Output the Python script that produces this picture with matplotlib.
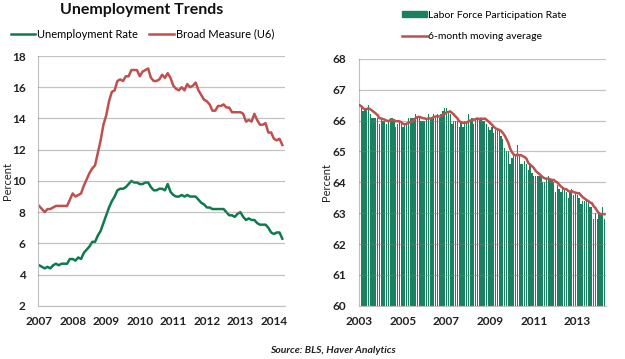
import matplotlib
matplotlib.use("Agg")
import matplotlib.pyplot as plt
from matplotlib.lines import Line2D
from matplotlib.patches import Patch
import numpy as np

plt.rcParams['font.family'] = ['Lato', 'DejaVu Sans']

# monthly, Jan 2007 - Apr 2014
unemp_start = 2007
unemp_rate = [
    4.6, 4.5, 4.4, 4.5, 4.4, 4.6, 4.7, 4.6, 4.7, 4.7, 4.7, 5.0,
    5.0, 4.9, 5.1, 5.0, 5.4, 5.6, 5.8, 6.1, 6.1, 6.5, 6.8, 7.3,
    7.8, 8.3, 8.7, 9.0, 9.4, 9.5, 9.5, 9.6, 9.8, 10.0, 9.9, 9.9,
    9.8, 9.8, 9.9, 9.9, 9.6, 9.4, 9.4, 9.5, 9.5, 9.4, 9.8, 9.3,
    9.1, 9.0, 9.0, 9.1, 9.0, 9.1, 9.0, 9.0, 9.0, 8.8, 8.6, 8.5,
    8.3, 8.3, 8.2, 8.2, 8.2, 8.2, 8.2, 8.0, 7.8, 7.8, 7.7, 7.9,
    8.0, 7.7, 7.5, 7.6, 7.5, 7.5, 7.3, 7.2, 7.2, 7.2, 7.0, 6.7,
    6.6, 6.7, 6.7, 6.3,
]
u6_rate = [
    8.4, 8.2, 8.0, 8.2, 8.2, 8.3, 8.4, 8.4, 8.4, 8.4, 8.4, 8.8,
    9.2, 9.0, 9.1, 9.2, 9.7, 10.1, 10.5, 10.8, 11.0, 11.8, 12.6, 13.6,
    14.2, 15.1, 15.7, 15.8, 16.4, 16.5, 16.4, 16.7, 16.7, 17.1, 17.1, 17.1,
    16.7, 17.0, 17.1, 17.2, 16.6, 16.4, 16.4, 16.5, 16.8, 16.6, 16.9, 16.6,
    16.1, 15.9, 15.8, 16.0, 15.8, 16.2, 16.0, 16.1, 16.3, 15.8, 15.5, 15.2,
    15.1, 14.9, 14.5, 14.5, 14.8, 14.8, 14.9, 14.7, 14.7, 14.4, 14.4, 14.4,
    14.4, 14.3, 13.8, 13.9, 13.8, 14.3, 13.9, 13.6, 13.6, 13.7, 13.1, 13.1,
    12.7, 12.6, 12.7, 12.3,
]

# monthly, Jan 2003 - Apr 2014
lfpr_start = 2003
lfpr = [
    66.4, 66.4, 66.3, 66.4, 66.4, 66.5, 66.2, 66.1, 66.1, 66.1, 66.1, 65.9,
    66.1, 66.0, 66.0, 65.9, 66.0, 66.1, 66.1, 66.0, 65.8, 65.9, 66.0, 65.9,
    65.8, 65.9, 65.9, 66.1, 66.1, 66.1, 66.1, 66.2, 66.1, 66.1, 66.0, 66.0,
    66.0, 66.1, 66.2, 66.1, 66.1, 66.2, 66.1, 66.2, 66.1, 66.2, 66.3, 66.4,
    66.4, 66.3, 66.2, 65.9, 66.0, 66.0, 66.0, 65.8, 66.0, 65.8, 66.0, 66.0,
    66.2, 66.0, 66.1, 65.9, 66.1, 66.1, 66.1, 66.1, 66.0, 66.0, 65.9, 65.8,
    65.7, 65.8, 65.6, 65.7, 65.7, 65.7, 65.5, 65.4, 65.1, 65.0, 65.0, 64.6,
    64.8, 64.9, 64.9, 65.2, 64.9, 64.6, 64.6, 64.7, 64.6, 64.4, 64.6, 64.3,
    64.2, 64.2, 64.2, 64.2, 64.2, 64.0, 64.0, 64.1, 64.2, 64.1, 64.1, 64.0,
    63.7, 63.9, 63.8, 63.7, 63.8, 63.8, 63.7, 63.5, 63.7, 63.8, 63.6, 63.7,
    63.6, 63.5, 63.3, 63.4, 63.4, 63.4, 63.4, 63.2, 63.2, 62.8, 63.0, 62.8,
    63.0, 63.0, 63.2, 62.8,
]
lfpr_ma6 = [
    66.50, 66.47, 66.40, 66.37, 66.37, 66.40, 66.37, 66.32, 66.28, 66.23, 66.18, 66.08,
    66.07, 66.05, 66.03, 66.00, 65.98, 66.02, 66.02, 66.02, 65.98, 65.98, 65.98, 65.95,
    65.90, 65.88, 65.90, 65.93, 65.95, 65.98, 66.03, 66.08, 66.12, 66.12, 66.10, 66.08,
    66.07, 66.05, 66.07, 66.07, 66.08, 66.12, 66.13, 66.15, 66.13, 66.15, 66.18, 66.22,
    66.27, 66.28, 66.30, 66.25, 66.20, 66.13, 66.07, 65.98, 65.95, 65.93, 65.93, 65.93,
    65.97, 66.00, 66.02, 66.03, 66.05, 66.07, 66.05, 66.07, 66.05, 66.07, 66.03, 65.98,
    65.92, 65.87, 65.80, 65.75, 65.72, 65.70, 65.67, 65.60, 65.52, 65.40, 65.28, 65.10,
    64.98, 64.90, 64.87, 64.90, 64.88, 64.88, 64.85, 64.82, 64.77, 64.63, 64.58, 64.53,
    64.47, 64.38, 64.32, 64.28, 64.22, 64.17, 64.13, 64.12, 64.12, 64.10, 64.08, 64.08,
    64.03, 64.00, 63.93, 63.87, 63.82, 63.78, 63.78, 63.72, 63.70, 63.72, 63.68, 63.67,
    63.65, 63.65, 63.58, 63.52, 63.48, 63.43, 63.40, 63.35, 63.33, 63.23, 63.17, 63.07,
    63.00, 62.97, 62.97, 62.97,
]

GREEN = '#0f7a4e'
BAR_GREEN = '#1b8060'
RED = '#c0504d'
TXT = '#222222'

fig = plt.figure(figsize=(6.25, 3.59), dpi=100)

# --- left: unemployment ---
ax1 = fig.add_axes([0.061, 0.148, 0.395, 0.696])
t1 = unemp_start + np.arange(len(unemp_rate)) / 12
ax1.plot(t1, u6_rate, color=RED, lw=1.8)
ax1.plot(t1, unemp_rate, color=GREEN, lw=1.8)
ax1.set_xlim(2007 - 0.03, 2014.33)
ax1.set_ylim(2, 18)
ax1.set_yticks(range(2, 19, 2))
ax1.set_xticks(range(2007, 2015))
ax1.set_ylabel('Percent', fontsize=8, color=TXT)
ax1.yaxis.set_label_coords(-0.1, 0.5)

# --- right: participation ---
ax2 = fig.add_axes([0.574, 0.148, 0.396, 0.688])
t2 = lfpr_start + np.arange(len(lfpr)) / 12
ax2.bar(t2, lfpr, width=1 / 12 * 0.72, color=BAR_GREEN, zorder=2)
ax2.plot(t2, lfpr_ma6, color=RED, lw=1.8, zorder=4)
ax2.set_xlim(2003 - 0.03, 2014.33)
ax2.set_ylim(60, 68)
ax2.set_yticks(range(60, 69))
ax2.set_xticks(range(2003, 2015, 2))
ax2.set_ylabel('Percent', fontsize=8, color=TXT)
ax2.yaxis.set_label_coords(-0.11, 0.5)

for ax in (ax1, ax2):
    ax.grid(axis='y', color='#7a7a7a', alpha=0.45, lw=0.9, zorder=3)
    ax.set_axisbelow(False)
    for s in ('top', 'right'):
        ax.spines[s].set_visible(False)
    ax.spines['left'].set_color('#bfbfbf')
    ax.spines['bottom'].set_color('#bfbfbf')
    ax.tick_params(length=0, labelsize=8.5, colors=TXT)
    ax.tick_params(axis='y', pad=9)
    ax.tick_params(axis='x', pad=7)
    for lab in ax.get_xticklabels() + ax.get_yticklabels():
        lab.set_fontweight('bold')

# titles and legends
fig.text(0.226, 0.993, 'Unemployment Trends', ha='center', va='top',
         fontsize=11.5, fontweight='bold', color='#111111')

h1 = [Line2D([], [], color=GREEN, lw=1.8), Line2D([], [], color=RED, lw=1.8)]
fig.legend(h1, ['Unemployment Rate', 'Broad Measure (U6)'],
           loc='center left', bbox_to_anchor=(0.017, 0.905), ncol=2, frameon=False,
           fontsize=8, handlelength=2.2, handletextpad=0.2, columnspacing=1.0,
           borderaxespad=0, borderpad=0)

h2 = [Patch(color=BAR_GREEN), Line2D([], [], color=RED, lw=1.8)]
fig.legend(h2, ['Labor Force Participation Rate', '6-month moving average'],
           loc='center left', bbox_to_anchor=(0.643, 0.928), ncol=1, frameon=False,
           fontsize=7.5, handlelength=2.4, handleheight=0.5, handletextpad=0.15,
           labelspacing=1.2, borderaxespad=0, borderpad=0)

fig.text(0.533, 0.012, 'Source: BLS, Haver Analytics', ha='center', va='bottom',
         fontsize=7.5, fontweight='bold', fontstyle='italic', color=TXT)

fig.savefig('out.png', dpi=100)
